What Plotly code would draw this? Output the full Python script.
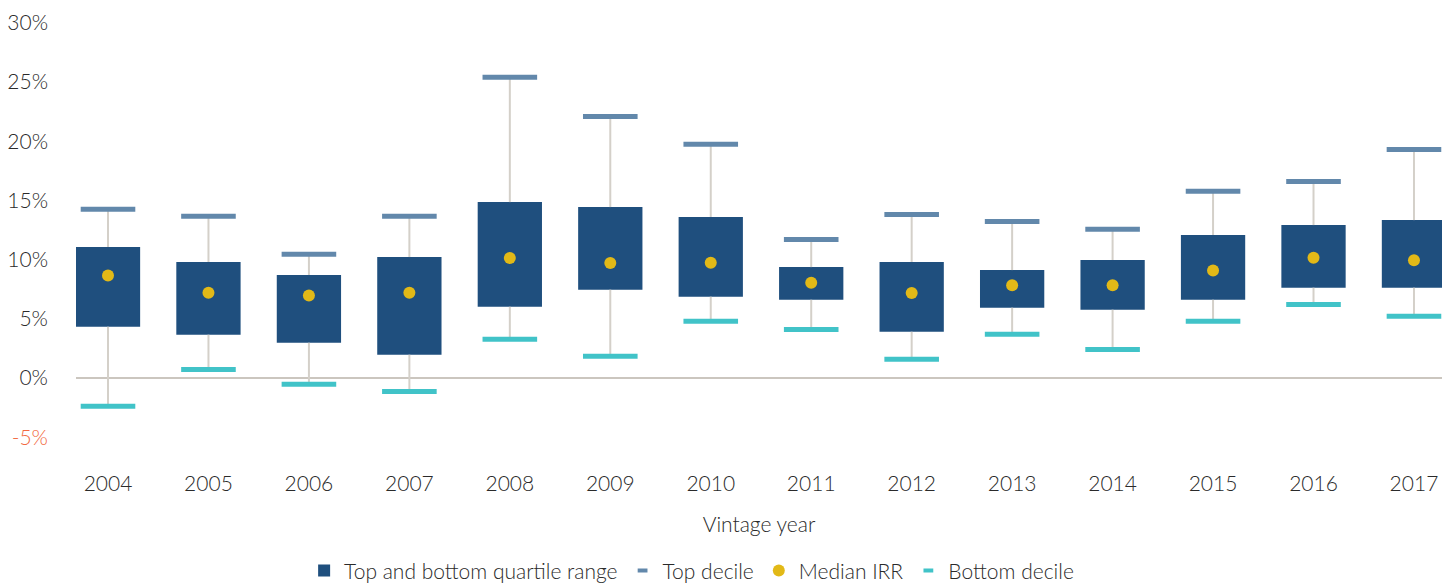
import plotly.graph_objects as go

years = ["2004", "2005", "2006", "2007", "2008", "2009", "2010",
         "2011", "2012", "2013", "2014", "2015", "2016", "2017"]
top_decile = [14.25, 13.66, 10.45, 13.66, 25.4, 22.1, 19.74,
              11.71, 13.82, 13.23, 12.56, 15.77, 16.61, 19.31]
upper_quartile = [11.06, 9.8, 8.70, 10.22, 14.86, 14.44, 13.6,
                  9.37, 9.8, 9.12, 9.97, 12.08, 12.92, 13.34]
median_irr = [8.67, 7.2, 6.98, 7.2, 10.13, 9.71, 9.74,
              8.05, 7.18, 7.83, 7.83, 9.09, 10.16, 9.94]
lower_quartile = [4.33, 3.66, 2.98, 1.97, 6.02, 7.46, 6.87,
                  6.61, 3.91, 5.94, 5.77, 6.61, 7.63, 7.63]
bottom_decile = [-2.39, 0.73, -0.53, -1.13, 3.27, 1.83, 4.79,
                 4.11, 1.58, 3.69, 2.42, 4.79, 6.22, 5.21]

y_tickvals = [-5, 0, 5, 10, 15, 20, 25, 30]
y_ticktext = ["<span style='color:#f26a41'>-5%</span>", "0%", "5%", "10%",
              "15%", "20%", "25%", "30%"]

FONT = "Lato"
TXT = "#2a2a2a"
BOX = "#1f4f7e"
TOP = "#6288ab"
BOT = "#41c3c8"
MED = "#e2b917"
WHISK = "#d4d0c9"

# whisker segments (below and above the box)
wx, wy = [], []
for i, yr in enumerate(years):
    wx += [yr, yr, None, yr, yr, None]
    wy += [bottom_decile[i], lower_quartile[i], None,
           upper_quartile[i], top_decile[i], None]

fig = go.Figure()
fig.add_trace(go.Scatter(x=wx, y=wy, mode="lines",
                         line=dict(color=WHISK, width=2),
                         showlegend=False, hoverinfo="skip"))
fig.add_trace(go.Bar(x=years,
                     y=[u - l for u, l in zip(upper_quartile, lower_quartile)],
                     base=lower_quartile, width=0.64,
                     marker=dict(color=BOX, line=dict(width=0)),
                     name="Top and bottom quartile range"))
# legend-only entries with small dash symbols
fig.add_trace(go.Scatter(x=[None], y=[None], mode="markers",
                         marker=dict(symbol="line-ew", size=7,
                                     line=dict(color=TOP, width=4)),
                         name="Top decile", legendgroup="top"))
fig.add_trace(go.Scatter(x=years, y=top_decile, mode="markers",
                         marker=dict(symbol="line-ew", size=39,
                                     line=dict(color=TOP, width=5)),
                         name="Top decile", legendgroup="top",
                         showlegend=False))
fig.add_trace(go.Scatter(x=years, y=median_irr, mode="markers",
                         marker=dict(symbol="circle", size=12, color=MED,
                                     line=dict(width=0)),
                         name="Median IRR"))
fig.add_trace(go.Scatter(x=[None], y=[None], mode="markers",
                         marker=dict(symbol="line-ew", size=7,
                                     line=dict(color=BOT, width=4)),
                         name="Bottom decile", legendgroup="bot"))
fig.add_trace(go.Scatter(x=years, y=bottom_decile, mode="markers",
                         marker=dict(symbol="line-ew", size=39,
                                     line=dict(color=BOT, width=5)),
                         name="Bottom decile", legendgroup="bot",
                         showlegend=False))

tf = dict(family=FONT, size=21, color=TXT, weight=300)

fig.update_layout(
    width=1442, height=583,
    margin=dict(l=76, r=0, t=11, b=128, autoexpand=False),
    paper_bgcolor="white", plot_bgcolor="white",
    font=tf,
    showlegend=True,
    legend=dict(orientation="h", x=0.167, xanchor="left",
                y=-0.261, yanchor="middle", font=tf,
                itemsizing="trace", traceorder="normal"),
    xaxis=dict(type="category", range=[-0.3185, 13.279], automargin=False,
               showgrid=False, zeroline=False, showline=False,
               ticks="", ticklabelstandoff=14, tickfont=tf,
               title=dict(text="Vintage year", standoff=23, font=tf)),
    yaxis=dict(range=[-6.5, 31], tickvals=y_tickvals, ticktext=y_ticktext,
               automargin=False,
               showgrid=False, zeroline=True, zerolinecolor="#cbc6bf",
               zerolinewidth=2, showline=False, ticks="",
               ticklabelstandoff=27, tickfont=tf),
)

fig.write_html("out.html",
               config={"displayModeBar": False},
               post_script="document.body.style.margin='0';"
                           "document.body.style.overflow='hidden';")
